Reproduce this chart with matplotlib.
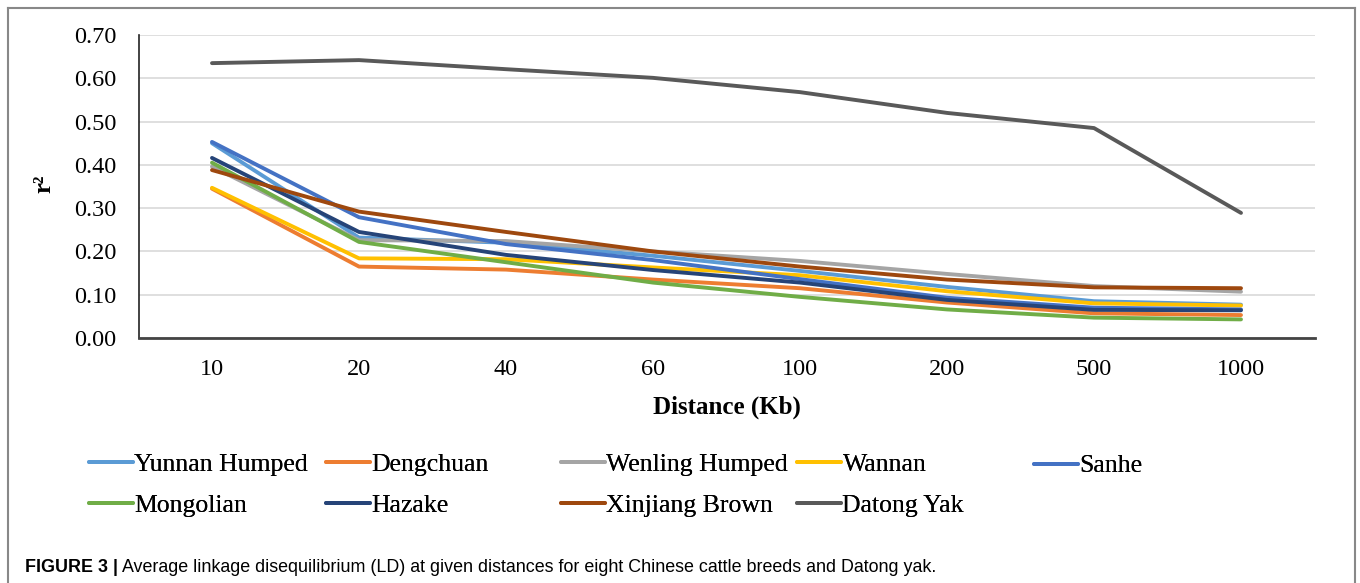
import matplotlib
matplotlib.use("Agg")
import matplotlib.pyplot as plt
from matplotlib.lines import Line2D

distances = ["10", "20", "40", "60", "100", "200", "500", "1000"]

yunnan_humped = [0.450, 0.232, 0.220, 0.190, 0.155, 0.118, 0.085, 0.077]
dengchuan     = [0.345, 0.165, 0.158, 0.135, 0.115, 0.082, 0.057, 0.053]
wenling_humped= [0.396, 0.226, 0.224, 0.200, 0.178, 0.148, 0.120, 0.107]
wannan        = [0.347, 0.184, 0.182, 0.163, 0.145, 0.108, 0.080, 0.075]
sanhe         = [0.453, 0.279, 0.217, 0.180, 0.136, 0.093, 0.070, 0.066]
mongolian     = [0.405, 0.222, 0.175, 0.128, 0.095, 0.066, 0.047, 0.043]
hazake        = [0.416, 0.245, 0.192, 0.157, 0.128, 0.088, 0.065, 0.064]
xinjiang_brown= [0.388, 0.292, 0.245, 0.200, 0.165, 0.135, 0.117, 0.115]
datong_yak    = [0.635, 0.642, 0.621, 0.601, 0.568, 0.520, 0.485, 0.289]

series = [
    ("Yunnan Humped", yunnan_humped, "#5B9BD5"),
    ("Dengchuan", dengchuan, "#ED7D31"),
    ("Wenling Humped", wenling_humped, "#A5A5A5"),
    ("Wannan", wannan, "#FFC000"),
    ("Sanhe", sanhe, "#4472C4"),
    ("Mongolian", mongolian, "#70AD47"),
    ("Hazake", hazake, "#264478"),
    ("Xinjiang Brown", xinjiang_brown, "#9E480E"),
    ("Datong Yak", datong_yak, "#595959"),
]

W, H = 1360, 583
fig = plt.figure(figsize=(W / 100, H / 100), dpi=100)
serif = "Liberation Serif"

ax = fig.add_axes([138.5 / W, 1 - 338 / H, 1176 / W, 303 / H])
x = list(range(len(distances)))
handles = {}
for name, vals, col in series:
    ln, = ax.plot(x, vals, color=col, lw=2.8, solid_capstyle="round",
                  solid_joinstyle="round", label=name)
    handles[name] = ln

ax.set_xlim(-0.5, len(distances) - 0.5)
ax.set_ylim(0, 0.70)
yt = [i / 10 for i in range(8)]
ax.set_yticks(yt)
ax.set_yticklabels([f"{v:.2f}" for v in yt], fontfamily=serif, fontsize=17.5)
ax.set_xticks(x)
ax.set_xticklabels(distances, fontfamily=serif, fontsize=17.5)
ax.tick_params(axis="both", length=0)
ax.tick_params(axis="y", pad=16)
ax.tick_params(axis="x", pad=15)
ax.grid(axis="y", color="#D9D9D9", lw=1.2)
ax.set_axisbelow(True)
for s in ["top", "right"]:
    ax.spines[s].set_visible(False)
ax.spines["left"].set_color("#222222")
ax.spines["left"].set_linewidth(1.2)
ax.spines["bottom"].set_color("#444444")
ax.spines["bottom"].set_linewidth(2.0)

ax.set_xlabel("Distance (Kb)", fontfamily=serif, fontsize=18, fontweight="bold", labelpad=11)
fig.text(44 / W, 1 - 184 / H, "r²", fontfamily=serif, fontsize=18, fontweight="bold",
         rotation=90, ha="center", va="center")

# legend columns (handle start x, centre y, entries)
columns = [
    (89, 485, ["Yunnan Humped", "Mongolian"]),
    (326, 485, ["Dengchuan", "Hazake"]),
    (561, 485, ["Wenling Humped", "Xinjiang Brown"]),
    (797, 485, ["Wannan", "Datong Yak"]),
    (1034, 466, ["Sanhe"]),
]
for xpix, ypix, names in columns:
    leg = fig.legend([handles[n] for n in names], names, loc="center left",
                     bbox_to_anchor=(xpix / W, 1 - ypix / H), frameon=False,
                     prop={"family": serif, "size": 18.5}, handlelength=1.72,
                     handletextpad=0.05, borderpad=0, borderaxespad=0,
                     labelspacing=0.69)
    fig.add_artist(leg)

# outer frame
frame = [Line2D([8 / W, 8 / W], [0, 1 - 8 / H]),
         Line2D([8 / W, 1355 / W], [1 - 8 / H, 1 - 8 / H]),
         Line2D([1355 / W, 1355 / W], [1 - 8 / H, 0])]
for l in frame:
    l.set_transform(fig.transFigure)
    l.set_color("#888888")
    l.set_linewidth(1.5)
    fig.add_artist(l)

t1 = fig.text(25 / W, 1 - 567 / H, "FIGURE 3 |", fontfamily="Liberation Sans",
              fontsize=12.9, fontweight="bold", va="center", ha="left")
fig.canvas.draw()
bb = t1.get_window_extent()
fig.text((bb.x1 + 4) / W, 1 - 567 / H,
         "Average linkage disequilibrium (LD) at given distances for eight Chinese cattle breeds and Datong yak.",
         fontfamily="Liberation Sans", fontsize=12.9, va="center", ha="left")

fig.savefig("out.png", dpi=100)
